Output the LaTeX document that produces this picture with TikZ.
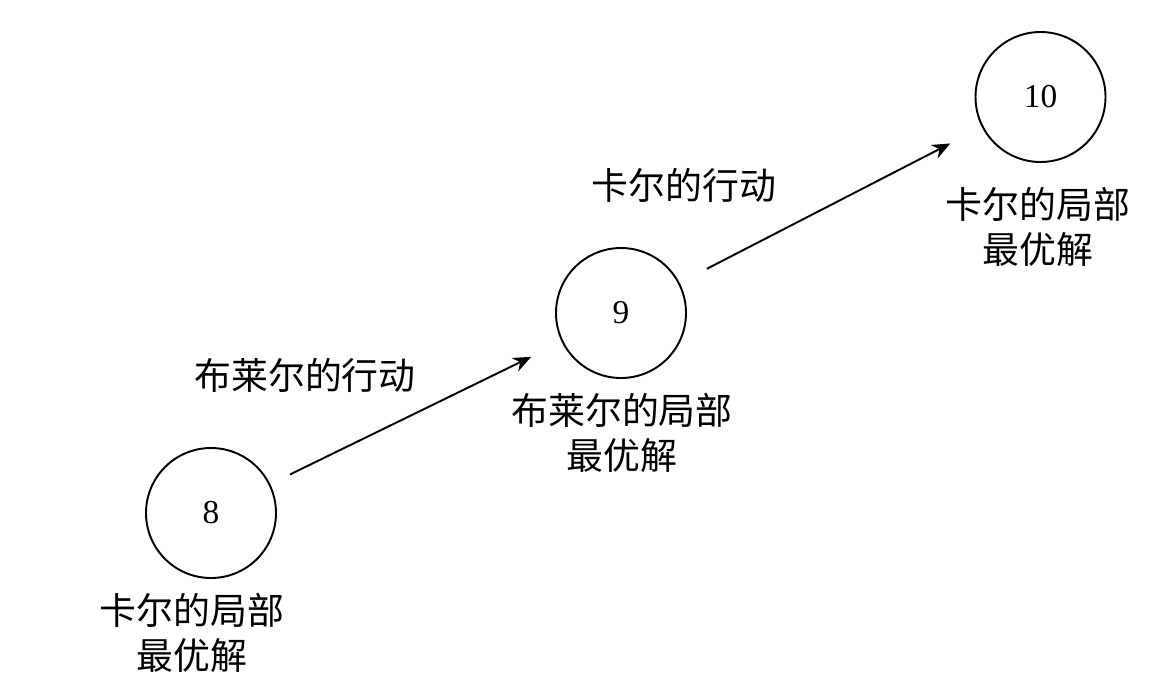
\documentclass[tikz,border=0pt]{standalone}
\usepackage{fontspec}
\setmainfont{Liberation Serif}
\newfontfamily\cjk{Noto Sans CJK SC}
\usetikzlibrary{arrows.meta}
\tikzset{>={Stealth[length=3.6mm,width=3mm]}}
\tikzset{
    state/.style={draw, circle, line width=1.1pt, minimum size=2.6cm, inner sep=0pt, outer sep=0pt, font=\fontsize{19}{22}\selectfont},
    note/.style={align=center, font=\cjk\fontsize{21}{25.6}\selectfont}
}

\begin{document}
\begin{tikzpicture}
    \useasboundingbox (0,0) rectangle (23.18,-13.94);
    \node[state] (n8) at (4.22,-10.26) {8};
    \node[state] (n9) at (12.42,-6.26) {9};
    \node[state] (n10) at (20.81,-1.94) {10};
    \node[note] (l8) at (3.84,-12.66) {卡尔的局部\\最优解};
    \node[note] (l9) at (12.44,-8.65) {布莱尔的局部\\最优解};
    \node[note] (l10) at (20.76,-4.54) {卡尔的局部\\最优解};
    \node[note] (a1) at (6.10,-7.50) {布莱尔的行动};
    \node[note] (a2) at (13.68,-3.70) {卡尔的行动};
    \draw[->, line width=1.1pt, shorten <=0.46cm, shorten >=0.70cm] (n8) -- (n9);
    \draw[->, line width=1.1pt, shorten <=0.63cm, shorten >=0.73cm] (n9) -- (n10);
\end{tikzpicture}
\end{document}
